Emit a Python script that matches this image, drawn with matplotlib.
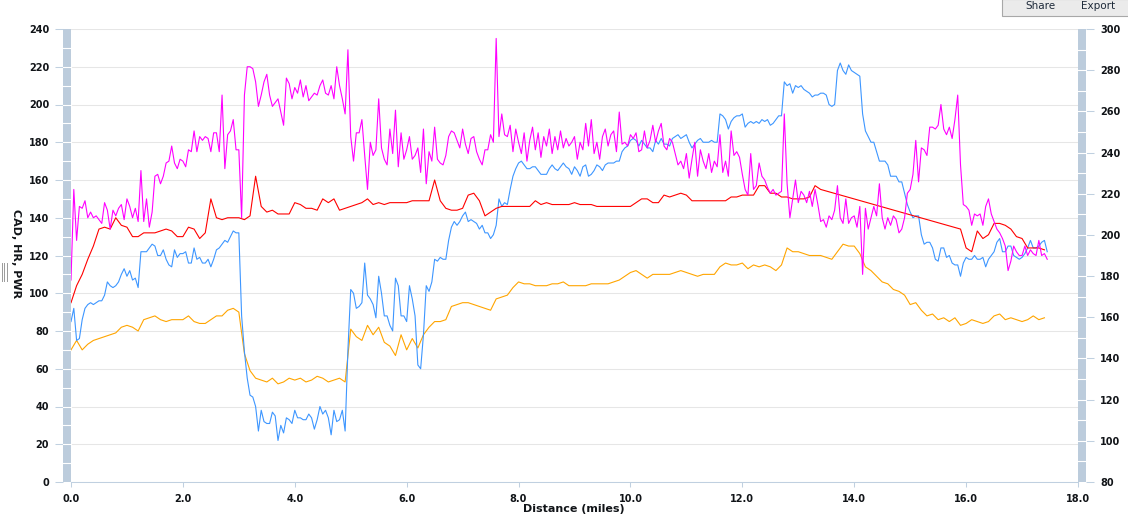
import numpy as np
import matplotlib
matplotlib.use('Agg')
import matplotlib.pyplot as plt
import matplotlib.transforms as mtransforms
from matplotlib.patches import Rectangle
from matplotlib.lines import Line2D

# distance grids (miles)
dist_fine = np.round(np.arange(350) * 0.05, 2)    # 0.00 .. 17.45
dist_coarse = np.round(np.arange(175) * 0.1, 1)   # 0.0 .. 17.4

# magenta series, every 0.05 mi
magenta_vals = [
    107, 155, 128, 146, 145, 149, 140, 143, 140, 141, 139, 137, 148, 144, 134, 144, 141, 145, 147, 139,
    150, 146, 140, 145, 138, 165, 138, 150, 135, 143, 162, 163, 158, 162, 169, 170, 178, 169, 166, 171,
    170, 167, 176, 175, 186, 175, 183, 181, 183, 182, 175, 185, 185, 175, 205, 166, 184, 186, 192, 176,
    176, 140, 205, 220, 220, 219, 212, 199, 205, 212, 216, 205, 199, 201, 203, 196, 189, 214, 211, 203,
    209, 206, 213, 204, 210, 202, 204, 206, 205, 210, 213, 206, 205, 210, 203, 220, 210, 203, 195, 229,
    183, 170, 185, 185, 192, 173, 155, 180, 173, 176, 203, 177, 171, 168, 187, 174, 197, 167, 185, 171,
    176, 183, 171, 173, 177, 164, 187, 158, 175, 170, 188, 171, 169, 168, 173, 183, 186, 185, 181, 177,
    187, 179, 174, 182, 183, 175, 171, 168, 176, 176, 184, 180, 235, 183, 195, 184, 183, 189, 175, 187,
    180, 174, 185, 170, 181, 188, 176, 185, 172, 183, 178, 187, 174, 183, 176, 186, 177, 182, 178, 180,
    183, 171, 180, 176, 190, 178, 192, 174, 180, 171, 183, 187, 178, 184, 186, 175, 196, 179, 180, 178,
    184, 182, 185, 175, 176, 186, 177, 181, 189, 180, 186, 190, 178, 176, 182, 180, 174, 168, 170, 166,
    174, 161, 171, 180, 162, 176, 170, 166, 174, 164, 170, 167, 184, 164, 170, 162, 186, 173,
    175, 172, 163, 155, 152, 174, 155, 157, 169, 162, 160, 156, 153, 155, 152, 153, 154, 195, 158, 140,
    150, 160, 148, 154, 152, 148, 154, 146, 155, 147, 138, 139, 135, 141, 139, 144, 157, 140, 137, 150,
    137, 140, 141, 135, 146, 110, 145, 134, 140, 146, 141, 158, 140, 134, 140, 136, 141, 139, 132,
    134, 140, 153, 155, 163, 181, 159, 177, 176, 173, 188, 188, 187, 189, 200, 187, 184, 188, 182, 192,
    205, 168, 147, 146, 144, 136, 142, 141, 142, 136, 146, 150, 142, 138, 134, 132, 129, 125, 112, 117,
    125, 122, 120, 120, 125, 120, 123, 121, 120, 128, 120, 121, 118,
]

# blue series, every 0.05 mi
blue_vals = [
    85, 92, 75, 76, 86, 92, 94, 95, 94, 95, 96, 96, 99, 106, 104, 103, 104, 106, 110, 113,
    109, 112, 107, 108, 103, 122, 122, 122, 124, 126, 125, 120, 120, 123, 118, 115, 114, 123, 119, 121,
    121, 122, 116, 116, 124, 118, 119, 116, 116, 118, 114, 118, 123, 124, 126, 128, 127, 130, 133, 132,
    132, 88, 69, 55, 46, 45, 40, 27, 38, 32, 31, 31, 37, 35, 22, 30, 26, 34, 33, 31,
    38, 34, 34, 33, 33, 36, 34, 28, 33, 40, 36, 38, 34, 25, 38, 32, 33, 38, 27, 70,
    102, 100, 92, 93, 95, 116, 99, 97, 94, 87, 109, 100, 88, 88, 83, 80, 108, 104, 88, 88,
    85, 104, 97, 88, 62, 60, 78, 104, 101, 106, 118, 117, 119, 118, 118, 128, 135, 138, 136, 138,
    141, 143, 138, 139, 138, 137, 134, 136, 132, 132, 129, 131, 136, 150, 146, 148, 147, 155, 162, 166,
    169, 170, 168, 166, 166, 167, 167, 165, 163, 163, 163, 166, 168, 166, 165, 167, 169, 167, 166, 163,
    167, 165, 162, 167, 168, 162, 163, 165, 168, 167, 165, 168, 169, 169, 169, 170, 170, 175, 177, 178,
    181, 182, 181, 178, 181, 179, 177, 177, 175, 181, 179, 182, 179, 179, 178, 182, 183, 184, 182, 183,
    184, 180, 177, 179, 181, 182, 180, 180, 180, 181, 180, 180, 195, 194, 192, 187, 191, 193,
    194, 194, 195, 188, 190, 191, 190, 191, 190, 192, 191, 192, 189, 190, 192, 194, 194, 212, 210, 211,
    206, 210, 209, 210, 208, 207, 206, 204, 205, 205, 206, 206, 205, 200, 199, 200, 218, 222, 218, 216,
    221, 218, 217, 216, 215, 195, 186, 183, 180, 180, 175, 170, 170, 170, 168, 162, 162, 162, 159,
    159, 153, 147, 143, 140, 141, 141, 131, 126, 127, 127, 124, 118, 117, 124, 124, 119, 120, 116, 115,
    115, 109, 116, 119, 118, 118, 120, 118, 118, 119, 114, 118, 120, 122, 127, 129, 122, 122, 125, 125,
    120, 119, 118, 119, 121, 124, 128, 124, 124, 125, 127, 128, 122,
]

# red series, every 0.1 mi (gap 13.5-15.8 has no samples)
red_vals = [
    95, 104, 110, 118, 125, 134, 135, 134, 140, 136, 135, 130, 130, 132, 132, 132, 133, 134, 133, 130,
    130, 135, 134, 129, 132, 150, 140, 139, 140, 140,
    140, 139, 141, 162, 146, 143, 144, 142, 142, 142, 148, 147, 145, 145, 144, 150, 148, 150, 144, 145,
    146, 147, 148, 150, 147, 148, 147, 148, 148, 148,
    148, 149, 149, 149, 149, 160, 149, 145, 144, 144, 145, 152, 153, 149, 141, 143, 145, 146, 146, 146,
    146, 146, 146, 149, 147, 148, 147, 147, 147, 147,
    148, 147, 147, 147, 146, 146, 146, 146, 146, 146, 146, 148, 150, 150, 148, 148, 152, 151, 152, 153,
    152, 149, 149, 149, 149, 149, 149, 149, 151, 151,
    152, 152, 152, 157, 157, 153, 153, 151, 151, 150, 150, 150, 151, 157, 155,
] + [np.nan] * 24 + [
    134, 124, 122, 133, 129, 131, 137, 137, 136, 134, 130, 129, 124, 124, 124, 123,
]

# orange series, every 0.1 mi
orange_vals = [
    70, 75, 70, 73, 75, 76, 77, 78, 79, 82, 83, 82, 80, 86, 87, 88, 86, 85, 86, 86,
    86, 88, 85, 84, 84, 86, 88, 88, 91, 92,
    90, 68, 59, 55, 54, 53, 55, 52, 53, 55, 54, 55, 53, 54, 56, 55, 53, 54, 55, 53,
    81, 77, 75, 83, 78, 82, 74, 72, 67, 78,
    70, 76, 71, 78, 82, 85, 85, 86, 93, 94, 95, 95, 94, 93, 92, 91, 97, 98, 99, 103,
    106, 105, 105, 104, 104, 104, 105, 105, 106, 104,
    104, 104, 104, 105, 105, 105, 105, 106, 107, 109, 111, 112, 110, 108, 110, 110, 110, 110, 111, 112,
    111, 110, 109, 110, 110, 110, 114, 116, 115, 115,
    116, 113, 115, 114, 115, 114, 112, 115, 124, 122, 122, 121, 120, 120, 120, 119, 118, 122, 126, 125,
    125, 121, 114, 112, 109, 106, 105, 102, 101, 99,
    94, 95, 91, 88, 89, 86, 87, 85, 87, 83, 84, 86, 85, 84, 85, 88, 89, 86, 87, 86,
    85, 86, 88, 86, 87,
]

x_ticks = [0, 2, 4, 6, 8, 10, 12, 14, 16, 18]
left_ticks = list(range(0, 241, 20))
right_ticks = list(range(80, 301, 20))

W, H = 1128, 515
plt.rcParams['font.family'] = ['DejaVu Sans']
plt.rcParams['font.weight'] = 'bold'
AXIS_C = '#C0D0E0'
BAR_C = '#BCCCDC'
TXT_C = '#111418'

fig = plt.figure(figsize=(W / 100, H / 100), dpi=100)
ax = fig.add_axes([71 / W, 33 / H, 1007 / W, 453 / H])
ax2 = ax.twinx()

ax.set_xlim(0, 18)
ax.set_ylim(0, 240)
ax2.set_ylim(80, 300)

ax.set_axisbelow(True)
ax.yaxis.grid(True, color='#E6E6E6', lw=0.75)

orange = np.array(orange_vals, dtype=float)
red = np.array(red_vals, dtype=float)
ok = ~np.isnan(red)
ax.plot(dist_coarse, orange, color='#FFA500', lw=0.8, zorder=3)
ax.plot(dist_fine, blue_vals, color='#3D96FF', lw=0.8, zorder=3)
ax.plot(dist_coarse[ok], red[ok], color='#FF0000', lw=0.8, zorder=4)
ax.plot(dist_fine, magenta_vals, color='#FF00FF', lw=0.8, zorder=5)

# side bars
bw = 8 / 1007
tl = mtransforms.blended_transform_factory(ax.transAxes, ax.transData)
tr = mtransforms.blended_transform_factory(ax2.transAxes, ax2.transData)
ax.add_patch(Rectangle((-bw, 0), bw, 240, transform=tl, color=BAR_C, clip_on=False, lw=0))
for v in range(10, 240, 10):
    ax.plot([-bw, 0], [v, v], transform=tl, color='white', lw=0.8, clip_on=False)
ax2.add_patch(Rectangle((1, 80), bw, 220, transform=tr, color=BAR_C, clip_on=False, lw=0))
for v in range(90, 300, 10):
    ax2.plot([1, 1 + bw], [v, v], transform=tr, color='white', lw=0.8, clip_on=False)

# axes styling
for a in (ax, ax2):
    a.spines['top'].set_visible(False)
ax.spines['right'].set_visible(False)
ax2.spines['left'].set_visible(False)
ax2.spines['bottom'].set_visible(False)
ax.spines['left'].set_position(('outward', 5.76))
ax.spines['left'].set_color('none')
ax2.spines['right'].set_position(('outward', 5.76))
ax2.spines['right'].set_color('none')
ax.spines['bottom'].set_color(AXIS_C)
ax.spines['bottom'].set_linewidth(0.75)

ax.set_xticks(x_ticks)
ax.set_xticklabels([f'{v:.1f}' for v in x_ticks])
ax.set_yticks(left_ticks)
ax2.set_yticks(right_ticks)
ax.tick_params(axis='x', direction='out', length=3.6, width=0.75, color=AXIS_C,
               pad=5, labelsize=7, labelcolor=TXT_C)
ax.tick_params(axis='y', direction='out', length=5.76, width=0.75, color=AXIS_C,
               pad=4.3, labelsize=7, labelcolor=TXT_C)
ax2.tick_params(axis='y', direction='out', length=5.76, width=0.75, color=AXIS_C,
                pad=4.3, labelsize=7, labelcolor=TXT_C)

# titles
fig.text(16 / W, 1 - 254 / H, 'CAD, HR, PWR', rotation=-90, ha='center', va='center',
         fontsize=8, fontweight='bold', color=TXT_C)
fig.text(574 / W, 0.5 / H, 'Distance (miles)', ha='center', va='bottom',
         fontsize=8, fontweight='bold', color=TXT_C)

# little drag handle left of the axis title
for xp in (2, 4.3, 6.5):
    fig.add_artist(Line2D([xp / W, xp / W], [1 - 263 / H, 1 - 281 / H],
                          transform=fig.transFigure, color='#9A9A9A', lw=0.7))

# Share / Export buttons
fig.add_artist(Rectangle((1002 / W, 1 - 15.5 / H), 130 / W, 17 / H, transform=fig.transFigure,
                         facecolor='#EBEBEB', edgecolor='#A8A8A8', lw=0.8))
fig.text(1040 / W, 1 - 6 / H, 'Share', ha='center', va='center', fontsize=7.5,
         fontweight='normal', color='#1E2A3A')
fig.text(1098.5 / W, 1 - 6 / H, 'Export', ha='center', va='center', fontsize=7.5,
         fontweight='normal', color='#1E2A3A')

fig.savefig('out.png', dpi=100)
